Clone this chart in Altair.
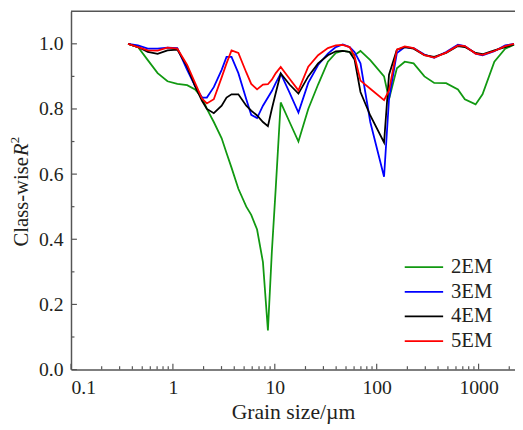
import altair as alt
import pandas as pd

# grain size classes (µm)
sizes = [0.363, 0.454, 0.567, 0.708, 0.885, 1.105, 1.38, 1.65, 1.93, 2.155,
         2.52, 3.01, 3.36, 3.76, 4.39, 5.25, 5.87, 6.70, 7.65, 8.56,
         9.35, 10.23, 11.43, 13.96, 17.06, 21.3, 26.6, 33.2, 39.7, 46.4,
         54.2, 60.6, 69.3, 86.5, 118.1, 132.1, 157.8, 188.5, 230.3, 294,
         367, 480, 627, 733, 935, 1093, 1428, 1824, 2228]

em2 = [1.0, 0.99, 0.95, 0.91, 0.885, 0.877, 0.873, 0.86, 0.835, 0.80,
       0.76, 0.71, 0.665, 0.62, 0.555, 0.50, 0.475, 0.43, 0.33, 0.12,
       0.36, 0.56, 0.82, 0.76, 0.70, 0.80, 0.875, 0.945, 0.972, 0.978,
       0.975, 0.965, 0.978, 0.95, 0.90, 0.83, 0.925, 0.945, 0.94, 0.90,
       0.88, 0.879, 0.86, 0.83, 0.814, 0.845, 0.945, 0.985, 0.997]

em3 = [1.0, 0.995, 0.985, 0.985, 0.988, 0.987, 0.92, 0.87, 0.835, 0.835,
       0.867, 0.92, 0.96, 0.96, 0.91, 0.83, 0.782, 0.772, 0.81, 0.835,
       0.855, 0.88, 0.909, 0.85, 0.789, 0.88, 0.935, 0.97, 0.99, 0.998,
       0.99, 0.975, 0.94, 0.76, 0.592, 0.83, 0.972, 0.99, 0.987, 0.967,
       0.957, 0.975, 0.997, 0.993, 0.97, 0.965, 0.977, 0.995, 1.0]

em4 = [1.0, 0.99, 0.975, 0.969, 0.98, 0.982, 0.93, 0.87, 0.825, 0.80,
       0.787, 0.81, 0.835, 0.845, 0.845, 0.81, 0.795, 0.78, 0.76, 0.747,
       0.80, 0.85, 0.909, 0.875, 0.847, 0.90, 0.94, 0.965, 0.977, 0.978,
       0.975, 0.952, 0.852, 0.78, 0.697, 0.905, 0.982, 0.99, 0.985, 0.965,
       0.96, 0.972, 0.993, 0.99, 0.972, 0.968, 0.98, 0.99, 0.998]

em5 = [1.0, 0.99, 0.98, 0.979, 0.988, 0.985, 0.935, 0.88, 0.832, 0.817,
       0.83, 0.897, 0.94, 0.98, 0.972, 0.912, 0.877, 0.86, 0.875, 0.876,
       0.89, 0.91, 0.929, 0.893, 0.857, 0.93, 0.965, 0.987, 0.995, 0.997,
       0.99, 0.962, 0.887, 0.862, 0.827, 0.857, 0.982, 0.992, 0.987, 0.965,
       0.958, 0.973, 0.995, 0.993, 0.97, 0.966, 0.978, 0.993, 1.0]

series = ["2EM", "3EM", "4EM", "5EM"]
colors = ["#119911", "#0000ff", "#000000", "#ff0000"]

x_major = [0.1, 1, 10, 100, 1000]
x_minor = [0.2, 0.3, 0.4, 0.5, 0.6, 0.7, 0.8, 0.9,
           2, 3, 4, 5, 6, 7, 8, 9,
           20, 30, 40, 50, 60, 70, 80, 90,
           200, 300, 400, 500, 600, 700, 800, 900, 2000]
y_major = [0.0, 0.2, 0.4, 0.6, 0.8, 1.0]
y_minor = [0.1, 0.3, 0.5, 0.7, 0.9]

W, H = 451, 364
FONT = "Liberation Serif"
AX = "#555555"
TXT = "#231f20"

rows = []
for name, vals in zip(series, [em2, em3, em4, em5]):
    for s, v in zip(sizes, vals):
        rows.append({"size": s, "r2": v, "model": name})
df = pd.DataFrame(rows)

xscale = alt.Scale(type="log", domain=[0.1, 2277], nice=False)
yscale = alt.Scale(domain=[0, 1.1], nice=False)

lines = alt.Chart(df).mark_line(strokeWidth=1.8, clip=True).encode(
    x=alt.X("size:Q", scale=xscale,
            axis=alt.Axis(values=x_major, labelExpr="format(datum.value, '~g')",
                          labelFont=FONT, labelFontSize=20, labelColor=TXT,
                          titleFont=FONT, titleFontSize=22, titleColor=TXT,
                          titleFontWeight="normal", titlePadding=5, labelPadding=8,
                          title="Grain size/µm")),
    y=alt.Y("r2:Q", scale=yscale,
            axis=alt.Axis(values=y_major, format=".1f", title=None,
                          labelFont=FONT, labelFontSize=20, labelColor=TXT,
                          labelPadding=8)),
    color=alt.Color("model:N", scale=alt.Scale(domain=series, range=colors), legend=None),
)

def xticks(vals, length):
    return alt.Chart(pd.DataFrame({"size": vals})).mark_rule(color=AX, strokeWidth=1.2).encode(
        x=alt.X("size:Q", scale=xscale), y=alt.value(H), y2=alt.value(H - length))

def yticks(vals, length):
    return alt.Chart(pd.DataFrame({"r2": vals})).mark_rule(color=AX, strokeWidth=1.2).encode(
        y=alt.Y("r2:Q", scale=yscale), x=alt.value(0), x2=alt.value(length))

top_border = alt.Chart(pd.DataFrame({"a": [0]})).mark_rule(color=AX, strokeWidth=1.5).encode(
    x=alt.value(0), x2=alt.value(W), y=alt.value(0))

def txt(t, x, y, size=21, style="normal", align="left", angle=0, baseline="alphabetic"):
    return alt.Chart(pd.DataFrame({"t": [t]})).mark_text(
        font=FONT, fontSize=size, fontStyle=style, align=align, angle=angle,
        baseline=baseline, color=TXT).encode(
        text="t:N", x=alt.value(x), y=alt.value(y))

ytitle = [
    txt("Class-wise", -44, 239, angle=270),
    txt("R", -44, 147, style="italic", angle=270),
    txt("2", -53, 134, size=13, angle=270),
]

legend_layers = []
for i, (name, col) in enumerate(zip(series, colors)):
    yy = 260 + 25 * i
    legend_layers.append(
        alt.Chart(pd.DataFrame({"a": [0]})).mark_rule(color=col, strokeWidth=1.8).encode(
            x=alt.value(339), x2=alt.value(378), y=alt.value(yy)))
    legend_layers.append(txt(name, 386, yy, baseline="middle"))

chart = alt.layer(
    xticks(x_major, 6), xticks(x_minor, 3.5), yticks(y_major, 6), yticks(y_minor, 3.5),
    top_border, lines, *ytitle, *legend_layers
).properties(
    width=W, height=H,
    autosize=alt.AutoSizeParams(type="none"),
    padding={"left": 64, "top": 0, "right": 0, "bottom": 52},
).configure(font=FONT).configure_view(strokeWidth=0).configure_axis(
    labelFont=FONT, titleFont=FONT,
    domainColor=AX, domainWidth=1.5, ticks=False, tickSize=0, grid=False,
)

chart.save("out.html", embed_options={"renderer": "svg", "actions": False})
